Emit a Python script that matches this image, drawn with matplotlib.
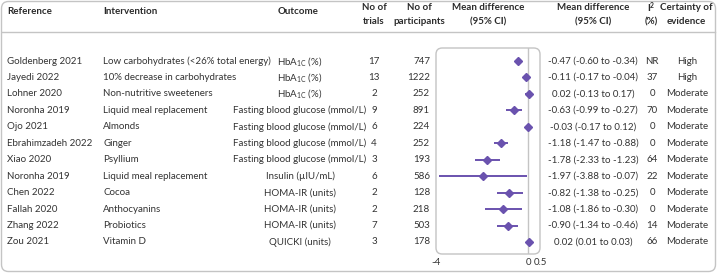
import matplotlib
matplotlib.use("Agg")
import matplotlib.pyplot as plt
from matplotlib.patches import FancyBboxPatch

plt.rcParams['font.family'] = ['Lato', 'DejaVu Sans']
plt.rcParams['mathtext.default'] = 'regular'

references = ["Goldenberg 2021", "Jayedi 2022", "Lohner 2020", "Noronha 2019", "Ojo 2021",
              "Ebrahimzadeh 2022", "Xiao 2020", "Noronha 2019", "Chen 2022", "Fallah 2020",
              "Zhang 2022", "Zou 2021"]
interventions = ["Low carbohydrates (<26% total energy)", "10% decrease in carbohydrates",
                 "Non-nutritive sweeteners", "Liquid meal replacement", "Almonds", "Ginger",
                 "Psyllium", "Liquid meal replacement", "Cocoa", "Anthocyanins", "Probiotics",
                 "Vitamin D"]
HBA = "HbA$_{1C}$ (%)"
FBG = "Fasting blood glucose (mmol/L)"
HOMA = "HOMA-IR (units)"
outcomes = [HBA, HBA, HBA, FBG, FBG, FBG, FBG, "Insulin (µIU/mL)", HOMA, HOMA, HOMA, "QUICKI (units)"]
n_trials = [17, 13, 2, 9, 6, 4, 3, 6, 2, 2, 7, 3]
n_participants = [747, 1222, 252, 891, 224, 252, 193, 586, 128, 218, 503, 178]
md = [-0.47, -0.11, 0.02, -0.63, -0.03, -1.18, -1.78, -1.97, -0.82, -1.08, -0.90, 0.02]
lo = [-0.60, -0.17, -0.13, -0.99, -0.17, -1.47, -2.33, -3.88, -1.38, -1.86, -1.34, 0.01]
hi = [-0.34, -0.04, 0.17, -0.27, 0.12, -0.88, -1.23, -0.07, -0.25, -0.30, -0.46, 0.03]
i2 = ["NR", "37", "0", "70", "0", "0", "64", "22", "0", "0", "14", "66"]
certainty = ["High", "High"] + ["Moderate"] * 10
xticks = [-4, 0, 0.5]
xtick_labels = ["-4", "0", "0.5"]

W, H = 717, 273
fig = plt.figure(figsize=(W / 100, H / 100), dpi=100)
ax = fig.add_axes([0, 0, 1, 1])
ax.set_xlim(0, W)
ax.set_ylim(H, 0)
ax.axis('off')

txt = '#333333'
hdr = '#2b2b2b'
purple = '#6a52ae'
grey = '#c4c4c4'
fs = 7.0

# outer border
ax.add_patch(FancyBboxPatch((1.5, 1.5), W - 3, H - 3, boxstyle="round,pad=0,rounding_size=7",
                            fc='white', ec=grey, lw=1.0))
# header line
ax.plot([2, W - 2], [32, 32], color=grey, lw=1.0)

hkw = dict(fontsize=fs, fontweight='bold', color=hdr, va='center')
ax.text(7, 11, "Reference", ha='left', **hkw)
ax.text(103, 11, "Intervention", ha='left', **hkw)
ax.text(298, 11, "Outcome", ha='center', **hkw)
ax.text(374, 8, "No of", ha='center', **hkw)
ax.text(374, 22, "trials", ha='center', **hkw)
ax.text(419, 8, "No of", ha='center', **hkw)
ax.text(419, 22, "participants", ha='center', **hkw)
ax.text(488, 8, "Mean difference", ha='center', **hkw)
ax.text(488, 22, "(95% CI)", ha='center', **hkw)
ax.text(593, 8, "Mean difference", ha='center', **hkw)
ax.text(593, 22, "(95% CI)", ha='center', **hkw)
ax.text(651, 8, "I$^{2}$", ha='center', **hkw)
ax.text(651, 22, "(%)", ha='center', **hkw)
ax.text(686, 8, "Certainty of", ha='center', **hkw)
ax.text(686, 22, "evidence", ha='center', **hkw)

y0, dy = 61, 16.45
rkw = dict(fontsize=fs, color=txt, va='center')
for i in range(len(references)):
    y = y0 + i * dy
    ax.text(7, y, references[i], ha='left', **rkw)
    ax.text(103, y, interventions[i], ha='left', **rkw)
    ax.text(300, y, outcomes[i], ha='center', **rkw)
    ax.text(374, y, str(n_trials[i]), ha='center', **rkw)
    ax.text(430, y, str(n_participants[i]), ha='right', **rkw)
    ci = f"{md[i]:.2f} ({lo[i]:.2f} to {hi[i]:.2f})"
    ax.text(593, y, ci, ha='center', **rkw)
    ax.text(652, y, i2[i], ha='center', **rkw)
    ax.text(687, y, certainty[i], ha='center', **rkw)

# forest plot axes
left, right, top, bottom = 436, 540, 48, 254
fax = fig.add_axes([left / W, 1 - bottom / H, (right - left) / W, (bottom - top) / H])
fax.set_xlim(-4, 0.5)
ytop = -(y0 - top) / dy
ybot = (bottom - y0) / dy
fax.set_ylim(ybot, ytop)
for s in fax.spines.values():
    s.set_visible(False)
fax.patch.set_alpha(0)
fax.add_patch(FancyBboxPatch((0, 0), 1, 1, transform=fax.transAxes,
                             boxstyle="round,pad=0,rounding_size=0.06",
                             fc='none', ec=grey, lw=1.0, mutation_aspect=(right - left) / (bottom - top),
                             clip_on=False))
fax.axvline(0, color=grey, lw=1.0)
rows = list(range(len(md)))
fax.hlines(rows, lo, hi, color=purple, lw=1.4)
fax.plot(md, rows, 'D', color=purple, ms=4.2, mec=purple)
fax.set_yticks([])
fax.set_xticks(xticks)
fax.set_xticklabels(xtick_labels, fontsize=fs, color=txt)
fax.tick_params(axis='x', length=0, pad=3)

fig.savefig("out.png", dpi=100)
